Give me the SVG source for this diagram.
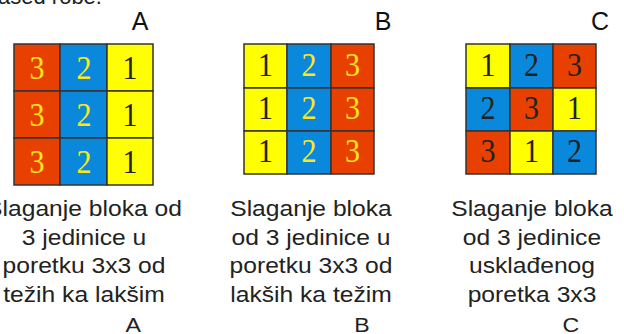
<svg xmlns="http://www.w3.org/2000/svg" width="624" height="334" viewBox="0 0 624 334">
<style>
.r{fill:#E84000}.b{fill:#0A88DC}.y{fill:#FFFF00}
.cell{stroke:#333;stroke-width:1.5}
.d{font-family:"Liberation Serif","Times New Roman",serif;font-size:30px;text-anchor:middle}
.dy{fill:#FFE81A}.dk{fill:#222}
.lbl{font-family:"Liberation Sans",Arial,sans-serif;font-size:25px;fill:#111;text-anchor:middle}
.cap{font-family:"Liberation Sans",Arial,sans-serif;font-size:22px;fill:#222;text-anchor:middle}
</style>
<rect width="624" height="334" fill="#fff"/>
<text x="-2" y="4" class="cap" style="text-anchor:start">ased robe.</text>

<g id="gridA">
<rect class="cell r" x="14" y="44" width="46" height="47"/>
<rect class="cell b" x="60" y="44" width="47" height="47"/>
<rect class="cell y" x="107" y="44" width="46" height="47"/>
<rect class="cell r" x="14" y="91" width="46" height="47"/>
<rect class="cell b" x="60" y="91" width="47" height="47"/>
<rect class="cell y" x="107" y="91" width="46" height="47"/>
<rect class="cell r" x="14" y="138" width="46" height="47"/>
<rect class="cell b" x="60" y="138" width="47" height="47"/>
<rect class="cell y" x="107" y="138" width="46" height="47"/>
<g transform="translate(0,79) scale(1,1.1)"><text class="d dy" x="37" y="0">3</text><text class="d dy" x="84" y="0">2</text><text class="d dk" x="130" y="0">1</text></g>
<g transform="translate(0,126) scale(1,1.1)"><text class="d dy" x="37" y="0">3</text><text class="d dy" x="84" y="0">2</text><text class="d dk" x="130" y="0">1</text></g>
<g transform="translate(0,173) scale(1,1.1)"><text class="d dy" x="37" y="0">3</text><text class="d dy" x="84" y="0">2</text><text class="d dk" x="130" y="0">1</text></g>
</g>

<g id="gridB">
<rect class="cell y" x="244" y="44" width="43" height="44"/>
<rect class="cell b" x="287" y="44" width="44" height="44"/>
<rect class="cell r" x="331" y="44" width="43" height="44"/>
<rect class="cell y" x="244" y="88" width="43" height="43"/>
<rect class="cell b" x="287" y="88" width="44" height="43"/>
<rect class="cell r" x="331" y="88" width="43" height="43"/>
<rect class="cell y" x="244" y="131" width="43" height="43"/>
<rect class="cell b" x="287" y="131" width="44" height="43"/>
<rect class="cell r" x="331" y="131" width="43" height="43"/>
<g transform="translate(0,76) scale(1,1.1)"><text class="d dk" x="265.5" y="0">1</text><text class="d dy" x="309" y="0">2</text><text class="d dy" x="352.5" y="0">3</text></g>
<g transform="translate(0,119) scale(1,1.1)"><text class="d dk" x="265.5" y="0">1</text><text class="d dy" x="309" y="0">2</text><text class="d dy" x="352.5" y="0">3</text></g>
<g transform="translate(0,162) scale(1,1.1)"><text class="d dk" x="265.5" y="0">1</text><text class="d dy" x="309" y="0">2</text><text class="d dy" x="352.5" y="0">3</text></g>
</g>

<g id="gridC">
<rect class="cell y" x="466" y="44" width="44" height="44"/>
<rect class="cell b" x="510" y="44" width="43" height="44"/>
<rect class="cell r" x="553" y="44" width="43" height="44"/>
<rect class="cell b" x="466" y="88" width="44" height="43"/>
<rect class="cell r" x="510" y="88" width="43" height="43"/>
<rect class="cell y" x="553" y="88" width="43" height="43"/>
<rect class="cell r" x="466" y="131" width="44" height="43"/>
<rect class="cell y" x="510" y="131" width="43" height="43"/>
<rect class="cell b" x="553" y="131" width="43" height="43"/>
<g transform="translate(0,76) scale(1,1.1)"><text class="d dk" x="488" y="0">1</text><text class="d dk" x="531.5" y="0">2</text><text class="d dk" x="574.5" y="0">3</text></g>
<g transform="translate(0,119) scale(1,1.1)"><text class="d dk" x="488" y="0">2</text><text class="d dk" x="531.5" y="0">3</text><text class="d dk" x="574.5" y="0">1</text></g>
<g transform="translate(0,162) scale(1,1.1)"><text class="d dk" x="488" y="0">3</text><text class="d dk" x="531.5" y="0">1</text><text class="d dk" x="574.5" y="0">2</text></g>
</g>

<g id="labelsTop">
<text class="lbl" x="140" y="30">A</text>
<text class="lbl" x="383" y="30">B</text>
<text class="lbl" x="600" y="30">C</text>
</g>

<g id="captionA" transform="translate(84,0) scale(1.12,1)">
<text class="cap" x="0" y="216">Slaganje bloka od</text>
<text class="cap" x="0" y="245">3 jedinice u</text>
<text class="cap" x="0" y="273">poretku 3x3 od</text>
<text class="cap" x="0" y="302">težih ka lakšim</text>
</g>
<g id="captionB" transform="translate(311,0) scale(1.12,1)">
<text class="cap" x="0" y="216">Slaganje bloka</text>
<text class="cap" x="0" y="245">od 3 jedinice u</text>
<text class="cap" x="0" y="273">poretku 3x3 od</text>
<text class="cap" x="0" y="302">lakših ka težim</text>
</g>
<g id="captionC" transform="translate(532,0) scale(1.12,1)">
<text class="cap" x="0" y="216">Slaganje bloka</text>
<text class="cap" x="0" y="245">od 3 jedinice</text>
<text class="cap" x="0" y="273">usklađenog</text>
<text class="cap" x="0" y="302">poretka 3x3</text>
</g>

<g id="labelsBottom" transform="translate(0,332) scale(1.1,1)">
<text class="cap" x="121" y="0" style="font-size:21px">A</text>
<text class="cap" x="329" y="0" style="font-size:21px">B</text>
<text class="cap" x="519" y="0" style="font-size:21px">C</text>
</g>
</svg>
